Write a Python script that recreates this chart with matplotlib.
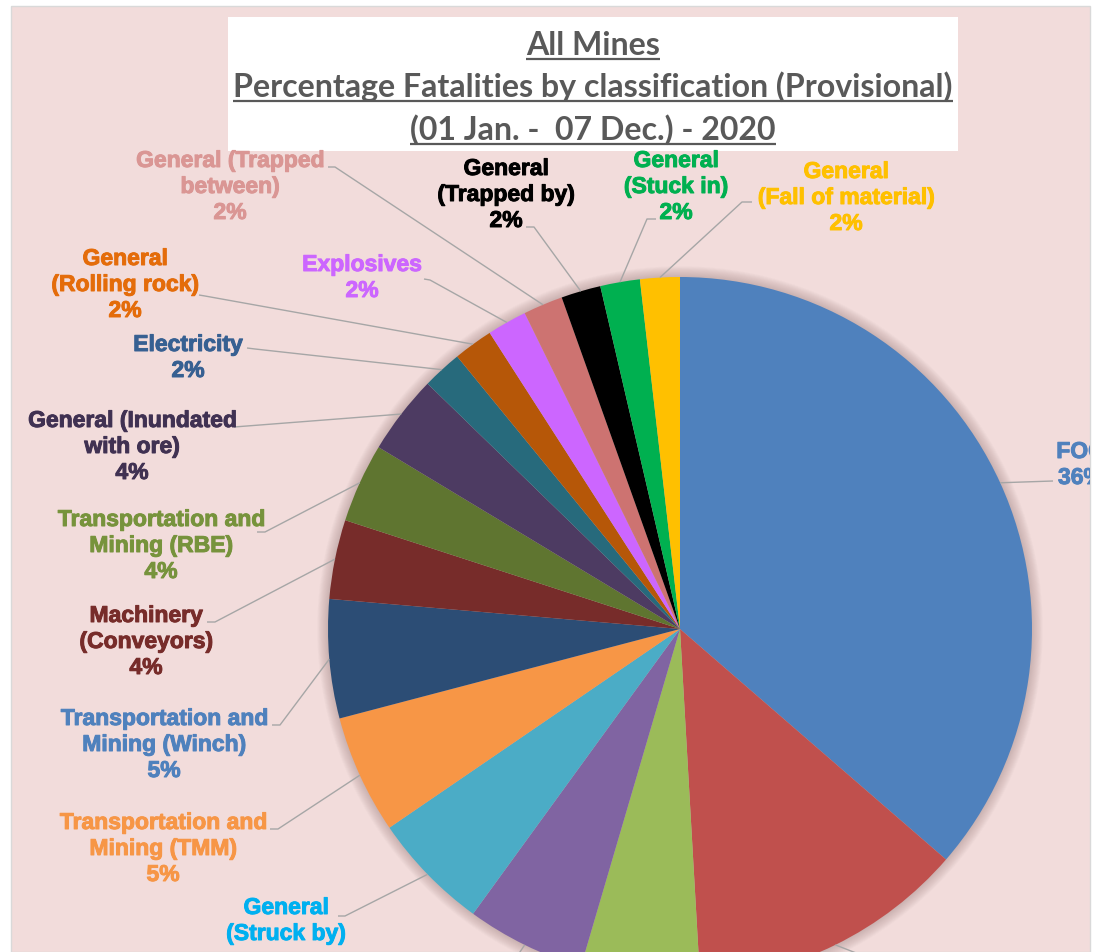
import matplotlib
matplotlib.use("Agg")
import matplotlib.pyplot as plt
from matplotlib.patches import Rectangle, Circle
import matplotlib.patheffects as pe
import numpy as np

# ---------------- data ----------------
categories = [
    "FOG", "(not visible 1)", "(not visible 2)", "(not visible 3)",
    "General\n(Struck by)", "Transportation and\nMining (TMM)",
    "Transportation and\nMining (Winch)", "Machinery\n(Conveyors)",
    "Transportation and\nMining (RBE)", "General (Inundated\nwith ore)",
    "Electricity", "General\n(Rolling rock)", "Explosives",
    "General (Trapped\nbetween)", "General\n(Trapped by)",
    "General\n(Stuck in)", "General\n(Fall of material)",
]
counts = [20, 7, 3, 3, 3, 3, 3, 2, 2, 2, 1, 1, 1, 1, 1, 1, 1]

slice_colors = [
    "#4F81BD", "#C0504D", "#9BBB59", "#8064A2", "#4BACC6", "#F79646",
    "#2C4D75", "#772C2A", "#5F7530", "#4D3B62", "#276A7C", "#B65708",
    "#CC66FF", "#CD7371", "#000000", "#00B050", "#FFC000",
]
label_colors = [
    "#4F81BD", "#C0504D", "#9BBB59", "#8064A2", "#00B0F0", "#F79646",
    "#4F81BD", "#772C2A", "#77933C", "#403152", "#376092", "#E46C0A",
    "#CC66FF", "#DA9694", "#000000", "#00B050", "#FFC000",
]

title_lines = ["All Mines",
               "Percentage Fatalities by classification (Provisional)",
               "(01 Jan. -  07 Dec.) - 2020"]

# ---------------- layout (pixel coords, y down) ----------------
W, H = 1105, 953
def Y(y):
    return H - y

CX, CY, R = 680, 630, 352
# label: (center x, first baseline y, leader end, elbow) ; None = label off canvas
layout = {
    0: (1081, 459, (1053, 482), None),
    1: (None, None, (892, 968), None),
    3: (None, None, (510, 968), None),
    4: (286, 915, (338, 917), (345, 917)),
    5: (163, 830, (270, 830), (278, 830)),
    6: (164, 726, (272, 726), (280, 726)),
    7: (146, 623, (207, 623), (215, 623)),
    8: (161, 527, (257, 533), (265, 533)),
    9: (132, 428, (234, 428), None),
    10: (188, 352, (247, 349), (255, 350)),
    11: (125, 266, (199, 296), (205, 297)),
    12: (362, 272, (424, 280), (430, 281)),
    13: (230, 168, (328, 168), (335, 168)),
    14: (506, 176, (526, 228), (534, 228)),
    15: (676, 168, (656, 220), (647, 220)),
    16: (846, 179, (752, 203), (742, 203)),
}
LINE_SP = 26

fig = plt.figure(figsize=(W / 100, H / 100), dpi=100)
fig.patch.set_facecolor("white")
ax = fig.add_axes([11 / W, 0, 1079 / W, 946 / H])

wedges, _ = ax.pie(counts, colors=slice_colors, startangle=90, counterclock=False,
                   center=(CX, Y(CY)), radius=R, frame=True,
                   wedgeprops=dict(linewidth=0, edgecolor="none"))
ax.set_xlim(11, 1090)
ax.set_ylim(0, 946)
ax.set_aspect("auto")
ax.set_xticks([])
ax.set_yticks([])
for s in ax.spines.values():
    s.set_visible(False)
ax.set_facecolor("#F2DCDB")

# panel border
ax.add_patch(Rectangle((11, 0), 1079, 946, facecolor="none", edgecolor="#D9D9D9",
                       linewidth=1.0, zorder=-5, clip_on=False))

# soft shadow around pie
for k in range(12, 0, -1):
    ax.add_patch(Circle((CX, Y(CY)), R + k * 0.9, facecolor="#6a4a4a",
                        edgecolor="none", alpha=0.025, zorder=0.5))

# title box
ax.add_patch(Rectangle((228, Y(152)), 730, 134, facecolor="white",
                       edgecolor="none", zorder=3))

label_font = dict(family=["Liberation Sans", "DejaVu Sans"], weight="bold", size=16.5)
total = sum(counts)

for i, w in enumerate(wedges):
    if i not in layout:
        continue
    lx, lby, lend, elbow = layout[i]
    mid = np.deg2rad((w.theta1 + w.theta2) / 2)
    px, py = CX + R * np.cos(mid), Y(CY) + R * np.sin(mid)
    xs = [lend[0]]
    ys = [Y(lend[1])]
    if elbow is not None:
        xs.append(elbow[0]); ys.append(Y(elbow[1]))
    xs.append(px); ys.append(py)
    ax.plot(xs, ys, color="#A6A6A6", lw=1.0, zorder=4, solid_capstyle="butt")
    if lx is None:
        continue
    pct = f"{round(100 * counts[i] / total)}%"
    lines = categories[i].split("\n") + [pct]
    for j, t in enumerate(lines):
        by = lby + j * LINE_SP
        if by > H:
            continue  # lies beyond the bottom edge of the picture
        ax.text(lx, Y(by), t, ha="center", va="baseline",
                color=label_colors[i], clip_on=True, zorder=5,
                path_effects=[pe.withStroke(linewidth=0.7, foreground=label_colors[i])],
                **label_font)

# title text, fitted to reference width
title_font = dict(family=["Lato", "DejaVu Sans"], weight="bold", color="#595959")
baselines = [55, 97, 140]
ttexts = [ax.text(593, Y(b), t, ha="center", va="baseline", size=22, zorder=6, **title_font)
          for t, b in zip(title_lines, baselines)]
fig.canvas.draw()
r = fig.canvas.get_renderer()
wpx = ttexts[1].get_window_extent(r).width
fs = 22 * 719 / wpx
for t in ttexts:
    t.set_fontsize(fs)
fig.canvas.draw()
inv = ax.transData.inverted()
for t, b in zip(ttexts, baselines):
    bb = t.get_window_extent(r)
    x0 = inv.transform((bb.x0, 0))[0]
    x1 = inv.transform((bb.x1, 0))[0]
    ax.plot([x0, x1], [Y(b + 5), Y(b + 5)], color="#595959", lw=1.6, zorder=6,
            solid_capstyle="butt")

fig.savefig("out.png", dpi=100, facecolor="white")
